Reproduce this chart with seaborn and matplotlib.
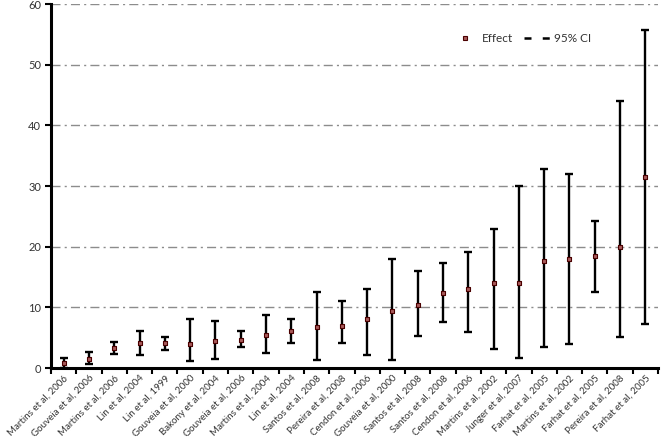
import matplotlib
matplotlib.use("Agg")
import matplotlib.pyplot as plt
from matplotlib.lines import Line2D
from matplotlib.ticker import FixedLocator
import seaborn as sns
import numpy as np
import pandas as pd

studies = ["Martins et al, 2006", "Gouveia et al, 2006", "Martins et al, 2006",
           "Lin et al, 2004", "Lin et al, 1999", "Gouveia et al, 2000",
           "Bakony et al, 2004", "Gouveia et al, 2006", "Martins et al, 2004",
           "Lin et al, 2004", "Santos et al, 2008", "Pereira et al, 2008",
           "Cendon et al, 2006", "Gouveia et al, 2000", "Santos et al, 2008",
           "Santos et al, 2008", "Cendon et al, 2006", "Martins et al, 2002",
           "Junger et al, 2007", "Farhat et al, 2005", "Martins et al, 2002",
           "Farhat et al, 2005", "Pereira et al, 2008", "Farhat et al, 2005"]
effect = [0.8, 1.5, 3.3, 4.1, 4.1, 4.0, 4.5, 4.7, 5.5, 6.1, 6.8, 7.0,
          8.0, 9.4, 10.4, 12.3, 13.0, 14.0, 14.0, 17.6, 18.0, 18.4, 20.0, 31.5]
ci_low = [0.0, 0.7, 2.3, 2.1, 3.0, 1.1, 1.5, 3.4, 2.5, 4.1, 1.3, 4.1,
          2.1, 1.3, 5.3, 7.6, 6.0, 3.1, 1.6, 3.4, 4.0, 12.5, 5.1, 7.2]
ci_high = [1.7, 2.6, 4.3, 6.1, 5.1, 8.1, 7.7, 6.1, 8.7, 8.1, 12.5, 11.0,
           13.1, 18.0, 16.0, 17.3, 19.1, 23.0, 30.0, 32.8, 32.0, 24.3, 44.1, 55.7]
y_ticks = [0, 10, 20, 30, 40, 50, 60]

df = pd.DataFrame({"pos": np.arange(len(studies)), "study": studies,
                   "effect": effect, "low": ci_low, "high": ci_high})

sns.set_theme(style="white")
plt.rcParams["font.family"] = ["Lato", "DejaVu Sans"]

fig = plt.figure(figsize=(6.62, 4.40), dpi=100)
ax = fig.add_axes([0.077, 0.1636, 0.917, 0.827])

# grid lines (dash-dot)
for t in y_ticks[1:]:
    ax.axhline(t, color="#8c8c8c", lw=1.0, ls=(0, (6.5, 3, 1.5, 3)), zorder=0)

yerr = np.array([df["effect"] - df["low"], df["high"] - df["effect"]])
ax.errorbar(df["pos"], df["effect"], yerr=yerr, fmt="none", ecolor="black",
            elinewidth=1.7, capsize=2.6, capthick=1.7, zorder=2)
sns.scatterplot(data=df, x="pos", y="effect", marker="s", s=8,
                color="#a85a5a", edgecolor="#4a0000", linewidth=0.8,
                ax=ax, zorder=3, legend=False)

ax.set_xlim(-0.5, len(studies) - 0.5)
ax.set_ylim(0, 60)
ax.set_yticks(y_ticks)
ax.set_yticklabels([str(t) for t in y_ticks], fontsize=8, color="#333333")
ax.set_xticks(df["pos"])
ax.set_xticklabels(studies, rotation=45, ha="right", rotation_mode="anchor",
                   fontsize=7, color="#333333")
ax.xaxis.set_minor_locator(FixedLocator(np.arange(-0.5, len(studies), 1.0)))
ax.tick_params(axis="x", which="major", length=0, pad=4)
ax.tick_params(axis="x", which="minor", length=4, width=1.5, direction="out",
               color="black", bottom=True)
ax.tick_params(axis="y", which="major", length=4, width=1.5, direction="out",
               color="black", left=True, pad=3)
ax.set_xlabel("")
ax.set_ylabel("")

for side in ["top", "right"]:
    ax.spines[side].set_visible(False)
for side in ["left", "bottom"]:
    ax.spines[side].set_color("black")
    ax.spines[side].set_linewidth(2.2)

handles = [Line2D([], [], marker="s", ls="none", markersize=3.2,
                  markerfacecolor="#a85a5a", markeredgecolor="#4a0000",
                  markeredgewidth=0.8),
           Line2D([], [], color="black", lw=1.8, ls=(0, (2.8, 4.5)))]
leg = ax.legend(handles, ["Effect", "95% CI"], ncol=2, frameon=False,
                loc="center", bbox_to_anchor=(0.775, 0.905), fontsize=8.5,
                handlelength=2.3, handletextpad=0.2, columnspacing=1.0)
for txt in leg.get_texts():
    txt.set_color("#333333")

fig.savefig("out.png", dpi=100)
